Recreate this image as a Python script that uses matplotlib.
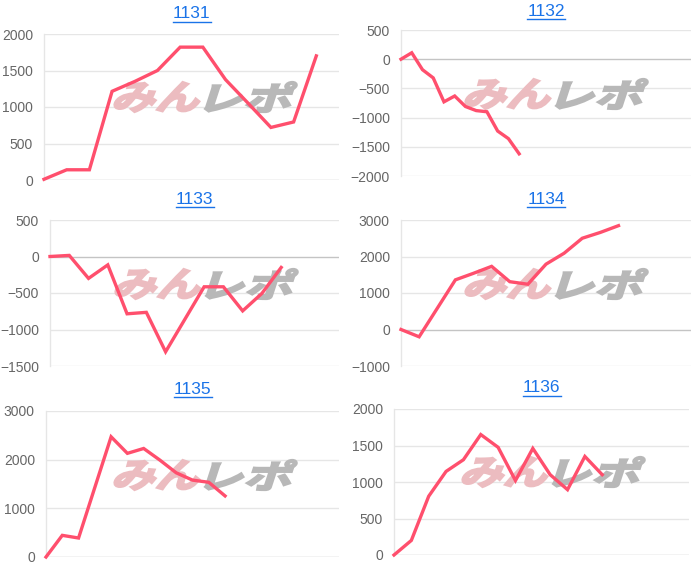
import matplotlib
matplotlib.use("Agg")
import matplotlib.pyplot as plt
from matplotlib.ticker import MultipleLocator
from matplotlib.textpath import TextPath
from matplotlib.patches import PathPatch
from matplotlib.font_manager import FontProperties
from matplotlib.transforms import Affine2D, IdentityTransform
from matplotlib.lines import Line2D

plt.rcParams['font.family'] = ['Liberation Sans', 'Noto Sans CJK JP', 'DejaVu Sans']

titles = ["1131", "1132", "1133", "1134", "1135", "1136"]

v1131 = [10, 140, 140, 1215, 1350, 1500, 1820, 1820, 1375, 1050, 720, 795, 1700]
v1132 = [0, 110, -180, -320, -730, -630, -810, -880, -900, -1230, -1360, -1620]
v1133 = [0, 15, -300, -115, -785, -765, -1305, -860, -415, -415, -745, -505, -150]
v1134 = [0, -200, 580, 1360, 1540, 1730, 1310, 1240, 1790, 2090, 2500, 2660, 2845]
v1135 = [0, 445, 390, 1430, 2470, 2130, 2230, 1990, 1730, 1580, 1535, 1255]
v1136 = [0, 200, 805, 1145, 1305, 1650, 1475, 1020, 1460, 1100, 895, 1350, 1100]
series = [v1131, v1132, v1133, v1134, v1135, v1136]

# number of category slots on each x axis
slots = [14, 28, 16, 17, 19, 18]
ylims = [(0, 2000), (-2000, 500), (-1500, 500), (-1000, 3000), (0, 3000), (0, 2000)]
ysteps = [500, 500, 500, 1000, 1000, 500]

# axes rectangles in pixels: left, right, top, bottom
rects = [(44, 339, 34, 180), (401, 691, 30, 176),
         (50, 339, 220, 366), (401, 691, 220, 366),
         (46, 339, 411, 557), (394, 689, 409, 555)]
# title centre y and watermark box (left, top) in pixels
title_y = [14, 11, 199, 199, 389, 388]
wm_pos = [(117, 82), (468, 79), (118, 269), (468, 269), (117, 460), (465, 457)]

W, H = 700, 564
fig = plt.figure(figsize=(W / 100, H / 100), dpi=100)

line_color = '#ff4f6d'
grid_color = '#e6e6e6'
zero_color = '#c4c4c4'
title_color = '#1a73e8'

fp = FontProperties(family='Noto Sans CJK JP', weight='bold')


def wm_part(ax, text, x0, ytop, w, h, color):
    tp = TextPath((0, 0), text, size=1, prop=fp)
    ext = tp.get_extents()
    tr = (Affine2D().translate(-ext.x0, -ext.y0)
          .scale(w / ext.width, h / ext.height)
          .skew_deg(18, 0)
          .translate(x0 - 5, H - ytop - h))
    patch = PathPatch(tr.transform_path(tp), facecolor=color, edgecolor=color,
                      linewidth=1.6, joinstyle='miter',
                      transform=IdentityTransform(), zorder=2, clip_on=False)
    ax.add_artist(patch)


for i in range(6):
    l, r, t, b = rects[i]
    ax = fig.add_axes([l / W, 1 - b / H, (r - l) / W, (b - t) / H])
    vals = series[i]
    ax.plot(range(len(vals)), vals, color=line_color, lw=2.4, zorder=4,
            solid_joinstyle='miter', clip_on=False)
    ax.set_xlim(0, slots[i] - 1)
    lo, hi = ylims[i]
    ax.set_ylim(lo, hi)
    ax.yaxis.set_major_locator(MultipleLocator(ysteps[i]))
    ax.set_xticks([])
    for s in ['top', 'right', 'bottom']:
        ax.spines[s].set_visible(False)
    ax.spines['left'].set_color(grid_color)
    ax.spines['left'].set_linewidth(1)
    ax.tick_params(axis='y', length=0, pad=8, labelsize=10, labelcolor='#666666')
    for tv in range(lo, hi + 1, ysteps[i]):
        ax.axhline(tv, color=zero_color if tv == 0 else grid_color,
                   lw=1, zorder=1)
    # title with underline
    cx = (l + r) / 2
    ty = title_y[i]
    fig.text(cx / W, 1 - ty / H, titles[i], color=title_color, fontsize=12.5,
             ha='center', va='center')
    uy = 1 - (ty + 8) / H
    fig.add_artist(Line2D([(cx - 19) / W, (cx + 19) / W], [uy, uy],
                          color=title_color, lw=1, transform=fig.transFigure))
    # watermark
    wx, wy = wm_pos[i]
    wm_part(ax, 'みん', wx, wy, 84, 30, '#ecbcc0')
    wm_part(ax, 'レポ', wx + 92, wy, 84, 30, '#b8b8b8')

fig.savefig('out.png', dpi=100)
